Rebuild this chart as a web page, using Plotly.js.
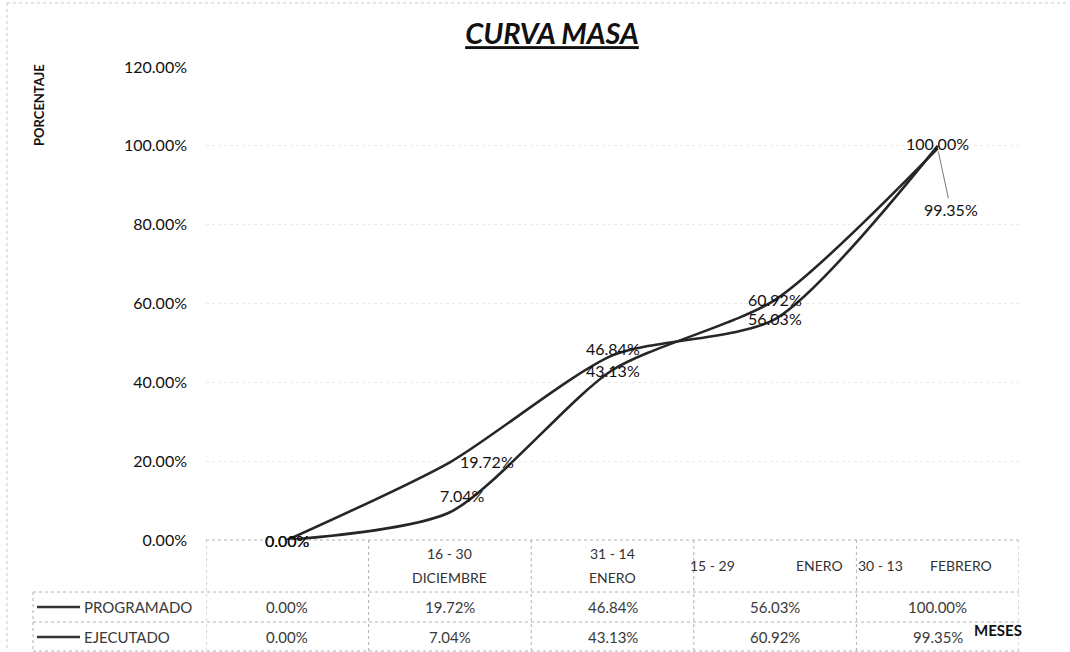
<!DOCTYPE html>
<html>
<head>
<meta charset="utf-8">
<script src="https://cdn.plot.ly/plotly-3.0.1.min.js"></script>
<style>
html,body{margin:0;padding:0;background:#fff;}
#chart{width:1070px;height:652px;}
</style>
</head>
<body>
<div id="chart"></div>
<script>
// ---- data ----
const categoriesTop = ["", "16 - 30", "31 - 14", "15 - 29", "30 - 13"];
const categoriesBottom = ["", "DICIEMBRE", "ENERO", "ENERO", "FEBRERO"];
const seriesNames = ["PROGRAMADO", "EJECUTADO"];
const programado = [0, 19.72, 46.84, 56.03, 100];
const ejecutado = [0, 7.04, 43.13, 60.92, 99.35];
const yTicks = [0, 20, 40, 60, 80, 100, 120];
const chartTitle = "CURVA MASA";
const yTitle = "PORCENTAJE";
const xTitle = "MESES";

// ---- layout helpers (pixel -> paper) ----
const W = 1070, H = 652;
const L = 206, R = 1019, T = 67, B = 540;
const px = x => (x - L) / (R - L);
const py = y => (B - y) / (B - T);
const fmt = v => v.toFixed(2) + "%";
const idx = categoriesTop.map((_, i) => i);

const FONT = "Lato, 'Open Sans', sans-serif";
const lineColor = "#262626";

const traces = [
  {x: idx, y: programado, name: seriesNames[0], type: "scatter", mode: "lines",
   line: {color: lineColor, width: 2.6, shape: "spline", smoothing: 0.7}},
  {x: idx, y: ejecutado, name: seriesNames[1], type: "scatter", mode: "lines",
   line: {color: lineColor, width: 2.6, shape: "spline", smoothing: 0.7}}
];

const annotations = [];
const shapes = [];

// data labels
const progOffsets = [[0,0,"center"],[8,1,"left"],[0,7,"center"],[0,1,"center"],[0,2,"center"]];
const ejecOffsets = [[0,0,"center"],[13,17,"center"],[0,0,"center"],[0,0,"center"],null];
programado.forEach((v, i) => {
  const o = progOffsets[i];
  annotations.push({x: i, y: v, xref: "x", yref: "y", text: fmt(v), showarrow: false,
    xanchor: o[2], yanchor: "middle", xshift: o[0], yshift: o[1],
    font: {family: FONT, size: 16, color: "#111"}});
});
ejecutado.forEach((v, i) => {
  const o = ejecOffsets[i];
  if (o) {
    annotations.push({x: i, y: v, xref: "x", yref: "y", text: fmt(v), showarrow: false,
      xanchor: o[2], yanchor: "middle", xshift: o[0], yshift: o[1],
      font: {family: FONT, size: 16, color: "#111"}});
  } else {
    annotations.push({x: i, y: v, xref: "x", yref: "y", text: fmt(v), showarrow: true,
      ax: 13, ay: 61, arrowhead: 0, arrowwidth: 1, arrowcolor: "#777", standoff: 3,
      font: {family: FONT, size: 16, color: "#111"}});
  }
});

// header labels of the data table
const hdrFont = {family: FONT, size: 14, color: "#333"};
idx.forEach(i => {
  if (!categoriesTop[i]) return;
  if (i <= 2) {
    annotations.push({x: i, y: py(553), xref: "x", yref: "paper", text: categoriesTop[i],
      showarrow: false, xanchor: "center", yanchor: "middle", font: hdrFont});
    annotations.push({x: i, y: py(577), xref: "x", yref: "paper", text: categoriesBottom[i],
      showarrow: false, xanchor: "center", yanchor: "middle", font: hdrFont});
  } else if (i === 3) {
    annotations.push({x: i, y: py(565), xref: "x", yref: "paper", text: categoriesTop[i],
      showarrow: false, xanchor: "left", xshift: -87, yanchor: "middle", font: hdrFont});
    annotations.push({x: i, y: py(565), xref: "x", yref: "paper", text: categoriesBottom[i],
      showarrow: false, xanchor: "right", xshift: 70, yanchor: "middle", font: hdrFont});
  } else {
    annotations.push({x: i, y: py(565), xref: "x", yref: "paper", text: categoriesTop[i],
      showarrow: false, xanchor: "left", xshift: -82, yanchor: "middle", font: hdrFont});
    annotations.push({x: i, y: py(565), xref: "x", yref: "paper", text: categoriesBottom[i],
      showarrow: false, xanchor: "right", xshift: 56, yanchor: "middle", font: hdrFont});
  }
});

// table rows
const rowFont = {family: FONT, size: 15, color: "#3a3a3a"};
[[programado, 607], [ejecutado, 637]].forEach(([arr, yy], r) => {
  arr.forEach((v, i) => {
    annotations.push({x: i, y: py(yy), xref: "x", yref: "paper", text: fmt(v),
      showarrow: false, xanchor: "center", yanchor: "middle", font: rowFont});
  });
  annotations.push({x: px(82), y: py(yy), xref: "paper", yref: "paper", text: seriesNames[r],
    showarrow: false, xanchor: "left", yanchor: "middle", font: rowFont});
  shapes.push({type: "line", xref: "paper", yref: "paper", x0: px(37), x1: px(80), y0: py(yy), y1: py(yy),
    line: {color: "#333", width: 2.5}});
});

// axis titles
annotations.push({x: px(39), y: py(105), xref: "paper", yref: "paper", text: "<b>" + yTitle + "</b>",
  textangle: -90, showarrow: false, xanchor: "center", yanchor: "middle",
  font: {family: FONT, size: 13, color: "#111"}});
annotations.push({x: px(998), y: py(630), xref: "paper", yref: "paper", text: "<b>" + xTitle + "</b>",
  showarrow: false, xanchor: "center", yanchor: "middle",
  font: {family: FONT, size: 15, color: "#111"}});

// table grid lines
const tl = {color: "#b0b0b0", width: 1, dash: "dot"};
for (let k = 0; k <= idx.length; k++) {
  shapes.push({type: "line", xref: "x", yref: "paper", x0: k - 0.5, x1: k - 0.5, y0: py(540), y1: py(651), line: tl});
}
[540, 592, 622, 651].forEach(yy => {
  const x0 = yy === 540 ? px(206) : px(33);
  shapes.push({type: "line", xref: "paper", yref: "paper", x0: x0, x1: px(1019), y0: py(yy), y1: py(yy), line: tl});
});
shapes.push({type: "line", xref: "paper", yref: "paper", x0: px(33), x1: px(33), y0: py(592), y1: py(651), line: tl});
// outer chart frame
shapes.push({type: "line", xref: "paper", yref: "paper", x0: px(7), x1: px(7), y0: py(3), y1: py(651), line: {color: "#c8c8c8", width: 1, dash: "dot"}});
shapes.push({type: "line", xref: "paper", yref: "paper", x0: px(7), x1: px(1069), y0: py(3), y1: py(3), line: {color: "#c8c8c8", width: 1, dash: "dot"}});

const layout = {
  width: W, height: H,
  margin: {l: L, r: W - R, t: T, b: H - B, pad: 0},
  paper_bgcolor: "#fff", plot_bgcolor: "#fff",
  showlegend: false,
  title: {text: "<b><i><u>" + chartTitle + "</u></i></b>", x: 552 / W, xanchor: "center",
    y: 1 - 34 / H, yanchor: "middle", xref: "container", yref: "container",
    font: {family: FONT, size: 29, color: "#111"}},
  xaxis: {type: "linear", range: [-0.5, idx.length - 0.5], showticklabels: false,
    showgrid: false, zeroline: false, showline: false, ticks: "", fixedrange: true},
  yaxis: {range: [0, 120], tickvals: yTicks, ticktext: yTicks.map(fmt),
    showgrid: true, gridcolor: "#ebebeb", griddash: "dot", gridwidth: 1,
    zeroline: false, showline: false, ticks: "", ticklabelstandoff: 18,
    tickfont: {family: FONT, size: 16, color: "#111"}},
  annotations: annotations,
  shapes: shapes
};

Plotly.newPlot("chart", traces, layout, {displayModeBar: false, staticPlot: true});
</script>
</body>
</html>
